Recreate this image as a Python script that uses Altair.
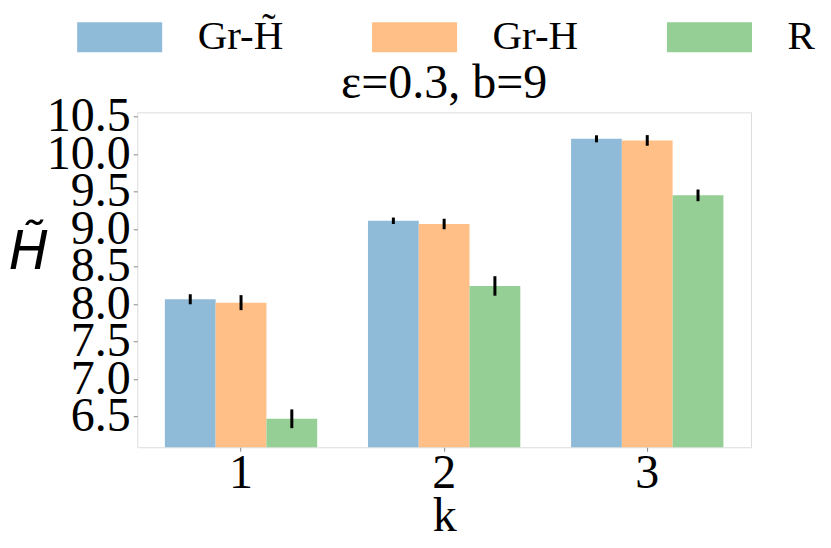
import altair as alt
import pandas as pd

ks = ["1", "2", "3"]
series = ["Gr-H\u0303", "Gr-H", "R"]
gr_htilde = [8.065, 9.113, 10.207]
gr_htilde_err = [0.067, 0.043, 0.047]
gr_h = [8.02, 9.07, 10.185]
gr_h_err = [0.10, 0.07, 0.071]
rand = [6.47, 8.243, 9.452]
rand_err = [0.125, 0.13, 0.078]
colors = ["#8fbbd9", "#ffbf86", "#95cf95"]
y_ticks = [6.5, 7.0, 7.5, 8.0, 8.5, 9.0, 9.5, 10.0, 10.5]

rows = []
for name, vals, errs in zip(series, [gr_htilde, gr_h, rand], [gr_htilde_err, gr_h_err, rand_err]):
    for k, v, e in zip(ks, vals, errs):
        rows.append({"k": k, "series": name, "value": v, "lo": v - e, "hi": v + e})
df = pd.DataFrame(rows)

FONT = "Liberation Serif"

x_enc = alt.X("k:N", title="k",
              scale=alt.Scale(paddingInner=0.25, paddingOuter=0.136),
              axis=alt.Axis(labelAngle=0, labelFont=FONT, labelFontSize=48,
                            labelColor="black", labelPadding=-2, tickSize=4,
                            tickColor="#888", domain=False,
                            titleFont=FONT, titleFontSize=48, titleFontWeight="normal",
                            titleColor="black", titlePadding=-5))
xo_enc = alt.XOffset("series:N", sort=series,
                     scale=alt.Scale(paddingInner=0, paddingOuter=0))

bars = alt.Chart(df).mark_bar(clip=True).encode(
    x=x_enc,
    xOffset=xo_enc,
    y=alt.Y("value:Q", title="H\u0303",
            scale=alt.Scale(domain=[6.09, 10.56], zero=False, nice=False),
            axis=alt.Axis(values=y_ticks, format=".1f", grid=False, labelOverlap=False,
                          labelFont=FONT, labelFontSize=48, labelColor="black",
                          labelPadding=3, tickSize=4, tickColor="#888", domain=False,
                          titleFont="DejaVu Sans", titleFontStyle="italic",
                          titleFontWeight="normal", titleFontSize=53,
                          titleColor="black", titleAngle=0, titleAlign="right",
                          titleBaseline="alphabetic", titleX=-89, titleY=156)),
    color=alt.Color("series:N", sort=series,
                    scale=alt.Scale(domain=series, range=colors),
                    legend=alt.Legend(title=None, orient="none", legendX=-65.6, legendY=-96,
                                      direction="horizontal", columns=3,
                                      gridAlign="all", columnPadding=83,
                                      symbolType="M-1,-1H4.67V1H-1Z", symbolSize=900,
                                      symbolStrokeWidth=0, symbolOpacity=1,
                                      labelFont=FONT, labelFontSize=41,
                                      labelColor="black", labelOffset=85,
                                      labelLimit=400, padding=0)),
)

errs = alt.Chart(df).mark_rule(color="black", strokeWidth=3).encode(
    x=alt.X("k:N"),
    xOffset=alt.XOffset("series:N", sort=series),
    y=alt.Y("lo:Q"),
    y2="hi:Q",
)

chart = alt.layer(bars, errs).properties(
    width=614, height=335,
    title=alt.TitleParams("\u03b5=0.3, b=9", font=FONT, fontSize=48,
                          fontWeight="normal", color="black",
                          anchor="middle", baseline="alphabetic", offset=15, dy=145),
    autosize=alt.AutoSizeParams(type="none"),
    padding={"left": 129.3, "top": 104.3, "right": 72, "bottom": 93},
).configure_view(stroke="#999", strokeWidth=1).configure(background="white")

chart.save("out.html", embed_options={"renderer": "svg", "actions": False})
